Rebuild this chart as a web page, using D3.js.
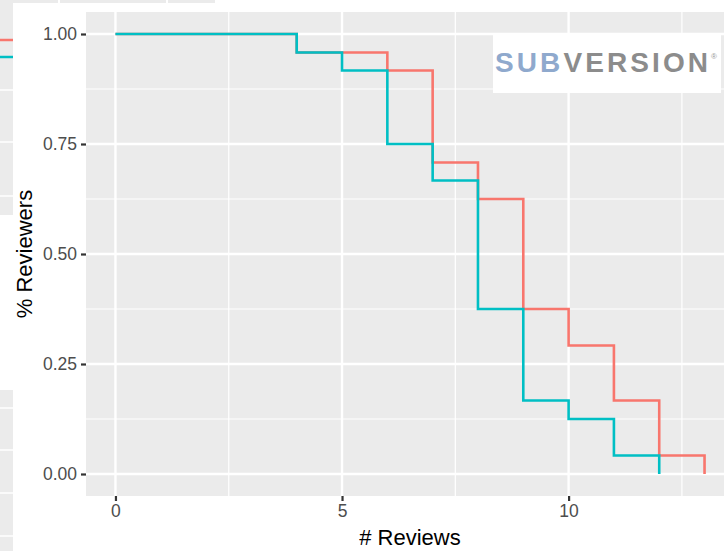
<!DOCTYPE html>
<html>
<head>
<meta charset="utf-8">
<script src="https://cdn.jsdelivr.net/npm/d3@7"></script>
<style>
  body { margin: 0; background: #fff; }
  svg { display: block; font-family: "Liberation Sans", Arial, sans-serif; }
</style>
</head>
<body>
<svg width="724" height="551"></svg>
<script>
// step positions (# reviews) and share of reviewers still active
var reviews = [0, 4, 5, 6, 7, 8, 9, 10, 11, 12, 13];
var redShare = [1.000, 0.958, 0.958, 0.917, 0.708, 0.625, 0.375, 0.292, 0.167, 0.042, 0];
var tealShare = [1.000, 0.958, 0.917, 0.750, 0.667, 0.375, 0.167, 0.125, 0.042, 0];
var xTicks = [0, 5, 10];
var yTicks = [0, 0.25, 0.5, 0.75, 1];
var seriesColors = ["#F8766D", "#00BFC4"];

var svg = d3.select("svg"),
  margin = { top: 12, left: 86, bottom: 55 },
  width = 648,
  height = 484;

// leftovers of the neighbouring plot (cropped)
var bits = svg.append("g");
bits.append("rect").attr("x", 0).attr("y", 0).attr("width", 13).attr("height", 215).attr("fill", "#EBEBEB");
bits.append("rect").attr("x", 0).attr("y", 390).attr("width", 13).attr("height", 161).attr("fill", "#EBEBEB");
[90, 142, 196, 408, 450, 493, 536].forEach(function(yy) {
  bits.append("line").attr("x1", 0).attr("x2", 13).attr("y1", yy).attr("y2", yy)
    .attr("stroke", "#fff").attr("stroke-width", 1.5);
});
[[13, 58], [60, 166], [168, 215]].forEach(function(s) {
  bits.append("rect").attr("x", s[0]).attr("y", 0).attr("width", s[1] - s[0]).attr("height", 3).attr("fill", "#EBEBEB");
});
seriesColors.forEach(function(c, i) {
  bits.append("line").attr("x1", 0).attr("x2", 13).attr("y1", 40 + i * 17).attr("y2", 40 + i * 17)
    .attr("stroke", c).attr("stroke-width", 2.5);
});

var x = d3.scaleLinear().domain([-0.65, 13.65]).range([0, width]);
var y = d3.scaleLinear().domain([-0.05, 1.05]).range([height, 0]);

var focus = svg.append("g")
  .attr("transform", "translate(" + margin.left + "," + margin.top + ")");

focus.append("rect")
  .attr("width", width)
  .attr("height", height)
  .attr("fill", "#EBEBEB");

// minor grid
focus.selectAll(".gx-minor")
  .data([2.5, 7.5, 12.5])
  .enter().append("line")
  .attr("x1", function(d) { return x(d); })
  .attr("x2", function(d) { return x(d); })
  .attr("y1", 0).attr("y2", height)
  .attr("stroke", "#fff").attr("stroke-width", 1.2);
focus.selectAll(".gy-minor")
  .data([0.125, 0.375, 0.625, 0.875])
  .enter().append("line")
  .attr("x1", 0).attr("x2", width)
  .attr("y1", function(d) { return y(d); })
  .attr("y2", function(d) { return y(d); })
  .attr("stroke", "#fff").attr("stroke-width", 1.2);
// major grid
focus.selectAll(".gx")
  .data(xTicks)
  .enter().append("line")
  .attr("x1", function(d) { return x(d); })
  .attr("x2", function(d) { return x(d); })
  .attr("y1", 0).attr("y2", height)
  .attr("stroke", "#fff").attr("stroke-width", 2.4);
focus.selectAll(".gy")
  .data(yTicks)
  .enter().append("line")
  .attr("x1", 0).attr("x2", width)
  .attr("y1", function(d) { return y(d); })
  .attr("y2", function(d) { return y(d); })
  .attr("stroke", "#fff").attr("stroke-width", 2.4);

var line = d3.line()
  .x(function(d) { return x(d[0]); })
  .y(function(d) { return y(d[1]); })
  .curve(d3.curveStepAfter);

[redShare, tealShare].forEach(function(vals, i) {
  var pts = vals.map(function(v, k) { return [reviews[k], v]; });
  focus.append("path")
    .datum(pts)
    .attr("fill", "none")
    .attr("stroke", seriesColors[i])
    .attr("stroke-width", 2.6)
    .attr("d", line);
});

var xAxis = d3.axisBottom(x).tickValues(xTicks).tickSize(5).tickPadding(4).tickFormat(d3.format("d"));
var yAxis = d3.axisLeft(y).tickValues(yTicks).tickSize(5).tickPadding(4).tickFormat(d3.format(".2f"));

var gx = focus.append("g")
  .attr("transform", "translate(0," + height + ")")
  .call(xAxis);
var gy = focus.append("g").call(yAxis);
[gx, gy].forEach(function(g) {
  g.select(".domain").remove();
  g.selectAll(".tick line").attr("stroke", "#333").attr("stroke-width", 2.2);
  g.selectAll(".tick text").attr("fill", "#4D4D4D").style("font-size", "17.5px")
    .style("font-family", "'Liberation Sans', Arial, sans-serif");
});

// axis titles
svg.append("text")
  .attr("x", margin.left + width / 2)
  .attr("y", 545)
  .style("text-anchor", "middle")
  .style("font-size", "22px")
  .text("# Reviews");

svg.append("text")
  .attr("transform", "rotate(-90)")
  .attr("x", -(margin.top + height / 2))
  .attr("y", 32)
  .style("text-anchor", "middle")
  .style("font-size", "22px")
  .text("% Reviewers");

// logo pasted on the plot
svg.append("rect")
  .attr("x", 493).attr("y", 33).attr("width", 228).attr("height", 60)
  .attr("fill", "#fff");
var logo = svg.append("text")
  .attr("x", 495).attr("y", 72)
  .attr("textLength", 213).attr("lengthAdjust", "spacing")
  .style("font-size", "28px").style("font-weight", "bold");
logo.append("tspan").attr("fill", "#8FA9CD").text("SUB");
logo.append("tspan").attr("fill", "#8C8C8C").text("VERSION");
svg.append("text")
  .attr("x", 711).attr("y", 59)
  .attr("fill", "#999").style("font-size", "8px").text("®");
</script>
</body>
</html>
